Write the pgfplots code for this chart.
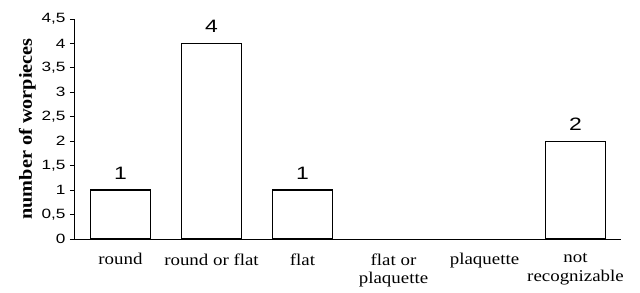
\documentclass[border=0pt]{standalone}
\usepackage{fontspec}
\setmainfont[FakeStretch=1.15]{Liberation Serif}
\newfontfamily\arial[FakeStretch=1.28]{Liberation Sans}
\newfontfamily\serifbold[FakeStretch=1.1]{Liberation Serif}
\usepackage{pgfplots}
\pgfplotsset{compat=1.18}
\begin{document}
\begin{tikzpicture}[x=1bp,y=1bp]
\begin{axis}[
  scale only axis,
  width=546bp, height=220bp,
  xmin=0, xmax=6, ymin=0, ymax=4.5,
  axis x line*=bottom, axis y line*=left,
  axis line style={line width=1bp, -},
  ybar, bar width=0.66,
  ytick={0,0.5,...,4.5},
  yticklabel style={font=\arial\fontsize{13.5}{14}\selectfont, /pgf/number format/use comma, /pgf/number format/assume math mode=true, xshift=-1bp},
  tick align=outside,
  major tick length=5bp,
  tick style={line width=1bp, black},
  xtick={0.5,1.5,...,5.5},
  xticklabels={round,{round or flat},flat,{flat or\\plaquette},plaquette,{not\\recognizable}},
  xticklabel style={font=\fontsize{16.5}{18.5}\selectfont, align=center, anchor=north, yshift=-6bp},
  x tick style={draw=none},
  extra x ticks={0,1,...,6},
  extra x tick labels={},
  extra x tick style={tick style={draw=black, line width=1bp}, major tick length=5bp},
  ylabel={\serifbold\bfseries\fontsize{18.5}{19}\selectfont number of worpieces},
  ylabel style={yshift=-1bp},
]
\addplot[draw=black, fill=white, line width=1.3bp,
  nodes near coords={\arial\fontsize{18}{18}\selectfont\pgfmathprintnumber[assume math mode=true]{\pgfplotspointmeta}},
  every node near coord/.append style={black, yshift=7bp}]
  coordinates {(0.5,1) (1.5,4) (2.5,1) (5.5,2)};
\end{axis}
\path[use as bounding box] (-75bp,-54bp) rectangle (565bp,239bp);
\end{tikzpicture}
\end{document}
